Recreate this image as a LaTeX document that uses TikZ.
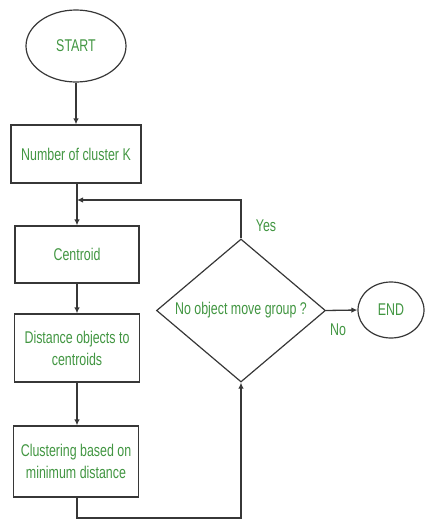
\documentclass[tikz,border=0pt]{standalone}
\usepackage{fontspec}
\newfontfamily\labfont[FakeStretch=0.73]{Liberation Sans}
\usetikzlibrary{shapes.geometric,arrows.meta}
\definecolor{txtgreen}{RGB}{66,150,66}
\definecolor{linegray}{RGB}{55,55,55}
\begin{document}
\begin{tikzpicture}[x=1pt,y=-1pt,
  every node/.style={font=\labfont\fontsize{17}{22}\selectfont, text=txtgreen},
  procbox/.style={draw=linegray, line width=1.2pt, rectangle, inner sep=0pt, align=center},
  termin/.style={draw=linegray, line width=1.2pt, ellipse, inner sep=0pt},
  decis/.style={draw=linegray, line width=1.2pt, diamond, inner sep=0pt},
  conn/.style={draw=linegray, line width=1.3pt},
  arr/.style={conn, -{Latex[length=6pt,width=5.5pt]}},
  lbl/.style={inner sep=0pt}]
\useasboundingbox (0,0) rectangle (426,520);
\node[termin, minimum width=100pt, minimum height=72pt] (start) at (76,46) {START};
\node[procbox, minimum width=130pt, minimum height=58pt] (k) at (76,154) {Number of cluster K};
\node[procbox, minimum width=124pt, minimum height=57pt] (cent) at (77,254.5) {Centroid};
\node[procbox, minimum width=125pt, minimum height=68pt] (dist) at (77,348) {Distance objects to\\centroids};
\node[procbox, minimum width=125pt, minimum height=71pt] (clus) at (76,461.5) {Clustering based on\\minimum distance};
\node[decis, minimum width=169pt, minimum height=143pt] (dec) at (241,310.5) {};
\node[lbl] (dect) at (241,310.5) {No object move group ?};
\node[termin, minimum width=66pt, minimum height=56pt] (end) at (391,310) {END};
\node[lbl] (yes) at (266,226) {Yes};
\node[lbl] (no) at (338,330) {No};
\coordinate (merge) at (77,200);
\coordinate (topr) at (241,200);
\coordinate (botl) at (77,518);
\coordinate (botr) at (241,518);
\draw[arr] (start.south) -- (k.north -| start.south);
\draw[arr] (k.south -| merge) -- (cent.north -| merge);
\draw[arr] (cent.south) -- (dist.north);
\draw[arr] (dist.south) -- (clus.north -| dist.south);
\draw[arr] (dec.north) -- (topr) -- (merge);
\draw[arr] (clus.south -| botl) -- (botl) -- (botr) -- (dec.south);
\draw[arr] (dec.east) -- (end.west);
\end{tikzpicture}
\end{document}
